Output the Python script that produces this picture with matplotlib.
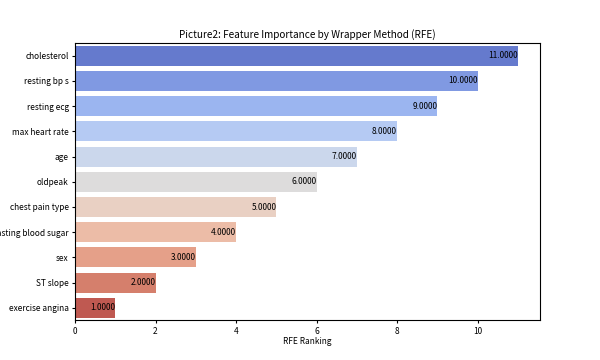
import matplotlib
matplotlib.use('Agg')
import matplotlib.pyplot as plt
import seaborn as sns
import pandas as pd

features = ["cholesterol", "resting bp s", "resting ecg", "max heart rate", "age",
            "oldpeak", "chest pain type", "fasting blood sugar", "sex", "ST slope",
            "exercise angina"]
ranking = [11, 10, 9, 8, 7, 6, 5, 4, 3, 2, 1]

df = pd.DataFrame({"Feature": features, "Ranking": ranking})

plt.rcParams['font.family'] = ['Noto Sans CJK SC', 'DejaVu Sans']

fig, ax = plt.subplots(figsize=(6, 3.6), dpi=100)
sns.barplot(data=df, x="Ranking", y="Feature", hue="Feature", palette="coolwarm",
            legend=False, ax=ax)

for i, v in enumerate(ranking):
    ax.text(v, i, f"{v:.4f}", ha='right', va='center', fontsize=6, color='black')

ax.set_title("Picture2: Feature Importance by Wrapper Method (RFE)", fontsize=7.2, pad=4)
ax.set_xlabel("RFE Ranking", fontsize=6, labelpad=1)
ax.set_ylabel("")
ax.tick_params(labelsize=6, length=2.5, pad=2)

fig.savefig("out.png", dpi=100)
